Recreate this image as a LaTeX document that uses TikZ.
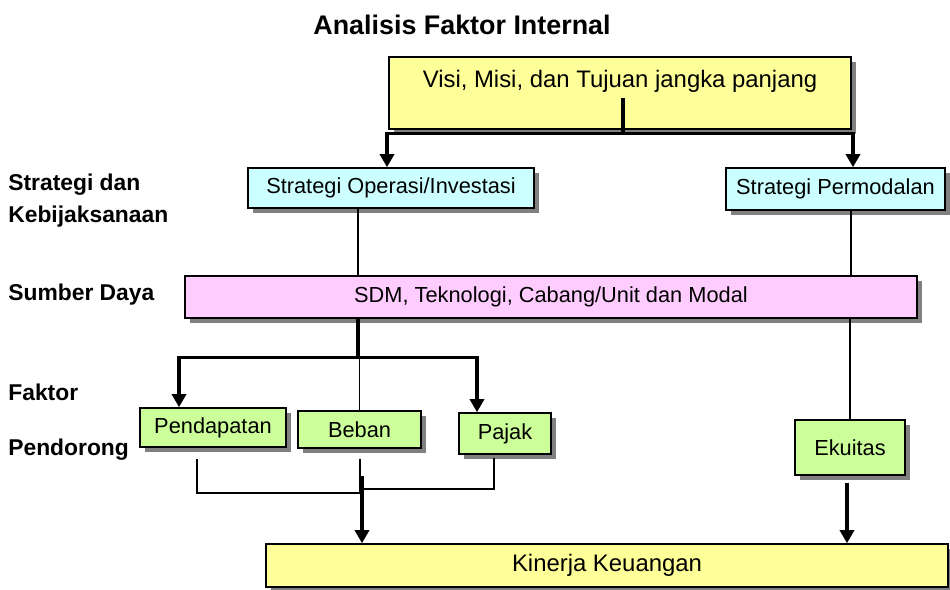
\documentclass[tikz,border=0pt]{standalone}
\usepackage{fontspec}
\setmainfont{Liberation Sans}
\usetikzlibrary{arrows.meta,shadows,calc}
\definecolor{boxyellow}{HTML}{FFFF99}
\definecolor{boxcyan}{HTML}{CCFFFF}
\definecolor{boxpink}{HTML}{FFCCFF}
\definecolor{boxgreen}{HTML}{CCFF99}
\definecolor{shadowgray}{HTML}{808080}
\tikzset{
  box/.style={draw=black, line width=0.85pt, inner sep=0pt,
    font=\fontsize{12.4}{15}\selectfont,
    drop shadow={shadow xshift=2.6pt, shadow yshift=-2.6pt, fill=shadowgray, opacity=1}},
  yellowbox/.style={box, fill=boxyellow, font=\fontsize{13.6}{16}\selectfont},
  cyanbox/.style={box, fill=boxcyan},
  pinkbox/.style={box, fill=boxpink},
  greenbox/.style={box, fill=boxgreen},
  rowlabel/.style={anchor=west, inner sep=0pt, font=\fontsize{13}{15}\selectfont\bfseries},
  thinline/.style={line width=1.1pt},
  thickline/.style={line width=1.9pt},
  arr/.style={thickline, -{Triangle[width=8pt,length=7.5pt]}},
}
\begin{document}
\begin{tikzpicture}[x=0.02cm, y=-0.02cm]
\useasboundingbox (0,0) rectangle (950,589);

% title and row labels
\node[font=\fontsize{15.3}{18}\selectfont\bfseries] (title) at (462,25) {Analisis Faktor Internal};
\node[rowlabel] (lstrat1) at (8,185) {Strategi dan};
\node[rowlabel] (lstrat2) at (8,217) {Kebijaksanaan};
\node[rowlabel] (lsumber) at (8,295) {Sumber Daya};
\node[rowlabel] (lfaktor1) at (8,392) {Faktor};
\node[rowlabel] (lfaktor2) at (8,450) {Pendorong};

% boxes
\node[yellowbox, minimum width=9.24cm, minimum height=1.44cm,
      label={[font=\fontsize{13.6}{16}\selectfont, yshift=0.23cm]center:Visi, Misi, dan Tujuan jangka panjang}]
      (visi) at (620,93) {};
\node[cyanbox, minimum width=5.72cm, minimum height=0.80cm] (sop) at (391,188) {Strategi Operasi/Investasi};
\node[cyanbox, minimum width=4.38cm, minimum height=0.84cm] (sperm) at (835.5,189) {Strategi Permodalan};
\node[pinkbox, minimum width=14.64cm, minimum height=0.84cm] (sdm) at (551,297) {SDM, Teknologi, Cabang/Unit dan Modal};
\node[greenbox, minimum width=2.92cm, minimum height=0.78cm] (pend) at (213,427.5) {Pendapatan};
\node[greenbox, minimum width=2.46cm, minimum height=0.74cm] (beban) at (359.5,429.5) {Beban};
\node[greenbox, minimum width=1.84cm, minimum height=0.82cm] (pajak) at (505,433.5) {Pajak};
\node[greenbox, minimum width=2.20cm, minimum height=1.10cm] (ekuitas) at (850,447.5) {Ekuitas};
\node[yellowbox, minimum width=13.64cm, minimum height=0.86cm] (kinerja) at (607,565.5) {Kinerja Keuangan};

% vision splits into the two strategies
\coordinate (vstart) at ($(visi.center)+(3,5)$);
\coordinate (vjoin) at ($(visi.south)+(3,4)$);
\draw[thickline] (vstart) -- (vjoin);
\draw[arr] (vjoin) -| ($(sop.north)+(-4,0)$);
\draw[arr] (vjoin) -| ($(sperm.north)+(17.5,0)$);

% strategies down to resources
\draw[thinline] ($(sop.south)+(-33,0)$) -- ($(sdm.north -| sop.south)+(-33,0)$);
\draw[thinline] ($(sperm.south)+(15.5,0)$) -- ($(sdm.north -| sperm.south)+(15.5,0)$);

% resources split into the driving factors
\coordinate (sdmout) at ($(sdm.south -| sop.south)+(-33,0)$);
\coordinate (branch) at ($(sdmout)+(0,39)$);
\draw[thickline] (sdmout) -- (branch);
\draw[arr] (branch) -| ($(pend.north)+(-34,0)$);
\draw[arr] (branch) -| ($(pajak.north)+(-28,0)$);
\draw[thinline] (branch -| beban.north) -- (beban.north);
\draw[thinline] (sdm.south -| ekuitas.north) -- (ekuitas.north);

% driving factors merge into financial performance
\coordinate (merge) at (360,493);
\draw[thinline] ($(pend.south)+(-16,11)$) |- (merge);
\draw[thinline] ($(beban.south)+(0.5,10)$) -- (merge);
\draw[thinline] ($(pajak.south)+(-11,3)$) |- ($(merge)+(1,-4)$);
\draw[arr] ($(kinerja.north -| beban.south)+(2.5,-67)$) -- ($(kinerja.north -| beban.south)+(2.5,0)$);
\draw[arr] ($(ekuitas.south)+(-3,7)$) -- ($(kinerja.north -| ekuitas.south)+(-3,0)$);
\end{tikzpicture}
\end{document}
